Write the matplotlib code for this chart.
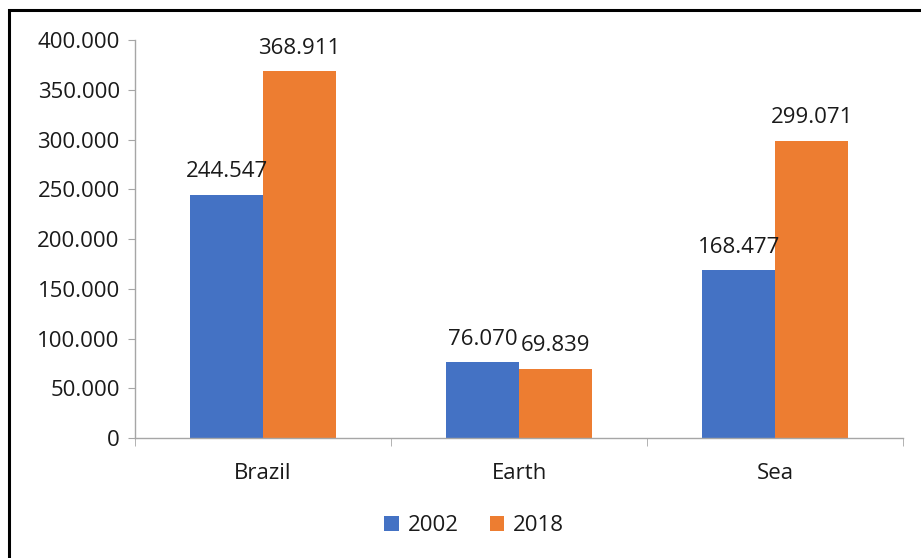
import matplotlib
matplotlib.use("Agg")
import matplotlib.pyplot as plt
from matplotlib.patches import Rectangle
from matplotlib.ticker import FuncFormatter
import numpy as np

categories = ["Brazil", "Earth", "Sea"]
series_names = ["2002", "2018"]
values_2002 = [244547, 76070, 168477]
values_2018 = [368911, 69839, 299071]
y_ticks = [0, 50000, 100000, 150000, 200000, 250000, 300000, 350000, 400000]

BLUE = "#4472C4"
ORANGE = "#ED7D31"
GRAY = "#A6A6A6"
TEXT = "#1a1a1a"

plt.rcParams["font.family"] = ["Open Sans", "DejaVu Sans"]


def dot_thousands(v, pos=None):
    if v == 0:
        return "0"
    return f"{v:,.0f}".replace(",", ".")


fig = plt.figure(figsize=(9.21, 5.58), dpi=100)
ax = fig.add_axes([0.1466, 0.215, 0.834, 0.713])

x = np.arange(len(categories))
w = 0.285
b1 = ax.bar(x - w / 2, values_2002, w, color=BLUE, label=series_names[0])
b2 = ax.bar(x + w / 2, values_2018, w, color=ORANGE, label=series_names[1])

for bars in (b1, b2):
    for rect in bars:
        h = rect.get_height()
        ax.annotate(dot_thousands(h), (rect.get_x() + rect.get_width() / 2, h),
                    xytext=(0, 9), textcoords="offset points",
                    ha="center", va="bottom", fontsize=16, color=TEXT)

ax.set_xlim(-0.5, len(categories) - 0.5)
ax.set_ylim(0, 400000)
ax.set_yticks(y_ticks)
ax.yaxis.set_major_formatter(FuncFormatter(dot_thousands))
ax.set_xticks(x)
ax.set_xticklabels(categories)
ax.set_xticks(np.arange(len(categories) + 1) - 0.5, minor=True)

ax.tick_params(axis="y", length=5, color=GRAY, labelsize=16, labelcolor=TEXT, pad=6)
ax.tick_params(axis="x", which="major", length=0, labelsize=16, labelcolor=TEXT, pad=18)
ax.tick_params(axis="x", which="minor", length=6, color=GRAY)

for side in ("top", "right"):
    ax.spines[side].set_visible(False)
for side in ("left", "bottom"):
    ax.spines[side].set_color(GRAY)
    ax.spines[side].set_linewidth(1.0)

leg = fig.legend(loc="center", bbox_to_anchor=(0.515, 0.058), ncol=2, frameon=False,
                 fontsize=16, handlelength=0.65, handleheight=0.65, handletextpad=0.4,
                 columnspacing=1.4)
for t in leg.get_texts():
    t.set_color(TEXT)

# outer black frame (right/bottom edges fall outside the image)
fig.patches.append(Rectangle((0.0098, -0.1), 1.2, 1.1 - 0.0175, transform=fig.transFigure,
                             fill=False, edgecolor="black", linewidth=2.2, zorder=10))

fig.savefig("out.png", dpi=100)
